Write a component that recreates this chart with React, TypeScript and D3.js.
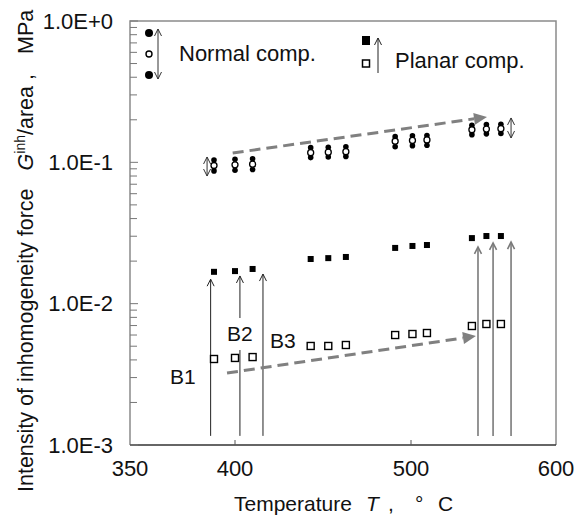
import React, { useEffect, useRef } from 'react';
import * as d3 from 'd3';

// temperatures of the measured points (deg C)
const temps = [390, 400, 410, 443, 453, 463, 491, 501, 511, 542, 552, 562];
// normal component: mean, upper and lower values (MPa)
const normalMean = [0.095, 0.096, 0.097, 0.117, 0.118, 0.119, 0.141, 0.143, 0.144, 0.170, 0.172, 0.173];
const normalMax = [0.104, 0.105, 0.106, 0.127, 0.128, 0.129, 0.152, 0.154, 0.155, 0.183, 0.185, 0.186];
const normalMin = [0.087, 0.088, 0.089, 0.108, 0.109, 0.110, 0.129, 0.131, 0.132, 0.157, 0.159, 0.160];
// planar component: high (filled) and low (open) values (MPa)
const planarHigh = [0.0168, 0.0170, 0.0176, 0.0207, 0.0210, 0.0214, 0.0248, 0.0256, 0.0260, 0.0291, 0.0301, 0.0301];
const planarLow = [0.00406, 0.00413, 0.00419, 0.00502, 0.00502, 0.00510, 0.00600, 0.00610, 0.00620, 0.00695, 0.00718, 0.00718];

const xTickLabels = [350, 400, 500, 600];
const yTickValues = [1e-3, 1e-2, 1e-1, 1];
const yTickLabels = ['1.0E-3', '1.0E-2', '1.0E-1', '1.0E+0'];

// annotation arrows (temperature, value)
const bArrowTemps = [388.4, 402.8, 415.9];
const bArrowTops = [0.0149, 0.0157, 0.0162];
const bLabels = ['B1', 'B2', 'B3'];
const bLabelTemps = [375.2, 402.8, 419.9];
const bLabelValues = [0.00303, 0.0061, 0.00544];
const rightArrowTemps = [546.2, 556.6, 569];
const rightArrowTops = [0.0252, 0.0269, 0.0273];
const arrowBase = 0.00116;
const trendUpper = [[398.9, 0.1164], [552.4, 0.2093]];
const trendLower = [[396.2, 0.00323], [544.8, 0.0059]];
const rangeArrows = [[386.7, 0.0800, 0.1091], [569, 0.1487, 0.206]];

const FONT = '"Liberation Sans", Arial, sans-serif';

const App = () => {
  const ref = useRef<SVGSVGElement>(null);

  useEffect(() => {
    const svg = d3.select(ref.current);
    svg.selectAll('*').remove();

    const left = 130, right = 556, top = 21, bottom = 445;

    // the original axis is not evenly spaced between its labels
    const x = d3.scaleLinear().domain([350, 400, 500, 600]).range([left, 235, 411, right]);
    const y = d3.scaleLog().domain([1e-3, 1]).range([bottom, top]);

    const g = svg.append('g').style('font-family', FONT);

    // frame
    g.append('path')
      .attr('d', `M${left},${bottom}V${top}H${right}V${bottom}`)
      .attr('fill', 'none').attr('stroke', '#8a8a8a').attr('stroke-width', 1.5);
    g.append('line')
      .attr('x1', left).attr('x2', right).attr('y1', bottom).attr('y2', bottom)
      .attr('stroke', '#333').attr('stroke-width', 1.5);

    // y ticks (inside, log minor ticks)
    const minor: number[] = [];
    [1e-3, 1e-2, 1e-1].forEach(d => { for (let k = 2; k <= 9; k++) minor.push(k * d); });
    g.selectAll('.ymin').data(minor).enter().append('line')
      .attr('x1', left).attr('x2', left + 7)
      .attr('y1', d => y(d)).attr('y2', d => y(d))
      .attr('stroke', '#777').attr('stroke-width', 1);
    g.selectAll('.ymaj').data(yTickValues).enter().append('line')
      .attr('x1', left).attr('x2', left + 8)
      .attr('y1', d => y(d)).attr('y2', d => y(d))
      .attr('stroke', '#777').attr('stroke-width', 1);
    g.selectAll('.ylab').data(yTickValues).enter().append('text')
      .attr('x', left - 17).attr('y', d => y(d)).attr('dy', '0.35em')
      .attr('text-anchor', 'end').style('font-size', '22px').attr('fill', '#111')
      .text((d, i) => yTickLabels[i]);

    // x ticks
    g.selectAll('.xt').data([400, 500]).enter().append('line')
      .attr('x1', d => x(d)).attr('x2', d => x(d))
      .attr('y1', bottom).attr('y2', bottom - 5)
      .attr('stroke', '#555').attr('stroke-width', 1);
    g.selectAll('.xlab').data(xTickLabels).enter().append('text')
      .attr('x', d => x(d)).attr('y', 476)
      .attr('text-anchor', 'middle').style('font-size', '22px').attr('fill', '#111')
      .text(d => d);

    // axis titles
    const xt = g.append('text').attr('y', 511)
      .style('font-size', '21px').attr('fill', '#111');
    xt.append('tspan').attr('x', 234).text('Temperature');
    xt.append('tspan').attr('x', 366).style('font-style', 'italic').text('T');
    xt.append('tspan').attr('x', 388).text(',');
    xt.append('tspan').attr('x', 415).text('°');
    xt.append('tspan').attr('x', 438).text('C');

    const yt = g.append('text')
      .attr('transform', 'translate(33,492) rotate(-90)')
      .style('font-size', '21.5px').attr('fill', '#111');
    yt.append('tspan').text('Intensity of inhomogeneity force');
    yt.append('tspan').attr('dx', 18).style('font-style', 'italic').text('G');
    yt.append('tspan').attr('dy', -8).style('font-size', '14px').text('inh');
    yt.append('tspan').attr('dy', 8).text('/area');
    yt.append('tspan').attr('dx', 6).text(',');
    yt.append('tspan').attr('dx', 20).text('MPa');

    // thin arrows helper
    const arrow = (px: number, y1: number, y2: number, color: string, w: number, both = false) => {
      g.append('line').attr('x1', px).attr('x2', px).attr('y1', y1).attr('y2', y2)
        .attr('stroke', color).attr('stroke-width', w);
      g.append('path').attr('d', `M${px - 3.5},${y2 + 7}L${px},${y2}L${px + 3.5},${y2 + 7}`)
        .attr('fill', 'none').attr('stroke', color).attr('stroke-width', w);
      if (both) {
        g.append('path').attr('d', `M${px - 3.5},${y1 - 7}L${px},${y1}L${px + 3.5},${y1 - 7}`)
          .attr('fill', 'none').attr('stroke', color).attr('stroke-width', w);
      }
    };

    bArrowTemps.forEach((t, i) => arrow(x(t), y(arrowBase), y(bArrowTops[i]), '#222', 1));
    rightArrowTemps.forEach((t, i) => arrow(x(t), y(arrowBase), y(rightArrowTops[i]), '#7a7a7a', 1.6));
    rangeArrows.forEach(([t, lo, hi]) => arrow(x(t), y(lo), y(hi), '#333', 1, true));

    // B labels
    bLabels.forEach((s, i) => {
      const tx = x(bLabelTemps[i]);
      const ty = y(bLabelValues[i]);
      if (i === 1) {
        g.append('rect').attr('x', tx - 13).attr('y', ty - 16).attr('width', 26).attr('height', 32).attr('fill', '#fff');
      }
      g.append('text').attr('x', tx).attr('y', ty).attr('dy', '0.35em')
        .attr('text-anchor', i === 2 ? 'start' : 'middle')
        .style('font-size', '21px').attr('fill', '#111').text(s);
    });

    // dashed trend arrows
    const trend = (pts: number[][]) => {
      const [p0, p1] = pts.map(p => [x(p[0]), y(p[1])]);
      const ang = Math.atan2(p1[1] - p0[1], p1[0] - p0[0]);
      const len = 13;
      const bx = p1[0] - len * Math.cos(ang), by = p1[1] - len * Math.sin(ang);
      g.append('line').attr('x1', p0[0]).attr('y1', p0[1]).attr('x2', bx).attr('y2', by)
        .attr('stroke', '#808080').attr('stroke-width', 3).attr('stroke-dasharray', '11,6');
      const nx = -Math.sin(ang) * 6, ny = Math.cos(ang) * 6;
      g.append('path')
        .attr('d', `M${p1[0]},${p1[1]}L${bx + nx},${by + ny}L${bx - nx},${by - ny}Z`)
        .attr('fill', '#808080');
    };
    trend(trendUpper);
    trend(trendLower);

    // normal component glyphs
    temps.forEach((t, i) => {
      const px = x(t);
      g.append('circle').attr('cx', px).attr('cy', y(normalMax[i])).attr('r', 2.8).attr('fill', '#000');
      g.append('circle').attr('cx', px).attr('cy', y(normalMin[i])).attr('r', 2.8).attr('fill', '#000');
      g.append('circle').attr('cx', px).attr('cy', y(normalMean[i])).attr('r', 3)
        .attr('fill', '#fff').attr('stroke', '#000').attr('stroke-width', 1.3);
    });

    // planar component squares
    g.selectAll('.ph').data(temps).enter().append('rect')
      .attr('x', d => x(d) - 3).attr('y', (d, i) => y(planarHigh[i]) - 3)
      .attr('width', 6).attr('height', 6).attr('fill', '#000');
    g.selectAll('.pl').data(temps).enter().append('rect')
      .attr('x', d => x(d) - 3.5).attr('y', (d, i) => y(planarLow[i]) - 3.5)
      .attr('width', 7).attr('height', 7).attr('fill', '#fff')
      .attr('stroke', '#000').attr('stroke-width', 1.4);

    // legend: normal comp.
    g.append('circle').attr('cx', 149).attr('cy', 33).attr('r', 4).attr('fill', '#000');
    g.append('circle').attr('cx', 149).attr('cy', 54).attr('r', 3).attr('fill', '#fff').attr('stroke', '#000').attr('stroke-width', 1.4);
    g.append('circle').attr('cx', 149).attr('cy', 75).attr('r', 4).attr('fill', '#000');
    arrow(158, 79, 29, '#333', 1, true);
    g.append('text').attr('x', 179).attr('y', 53).attr('dy', '0.35em')
      .style('font-size', '22px').attr('fill', '#111').text('Normal comp.');

    // legend: planar comp.
    g.append('rect').attr('x', 362).attr('y', 36).attr('width', 8).attr('height', 9).attr('fill', '#000');
    g.append('rect').attr('x', 362.5).attr('y', 60).attr('width', 7).attr('height', 7)
      .attr('fill', '#fff').attr('stroke', '#000').attr('stroke-width', 1.5);
    arrow(378, 73, 38, '#222', 1);
    g.append('text').attr('x', 395).attr('y', 60).attr('dy', '0.35em')
      .style('font-size', '22px').attr('fill', '#111').text('Planar comp.');
  }, []);

  return (
    <svg ref={ref} width={574} height={517}
      style={{ position: 'absolute', left: 0, top: 0, background: '#fff' }} />
  );
};

export default App;
